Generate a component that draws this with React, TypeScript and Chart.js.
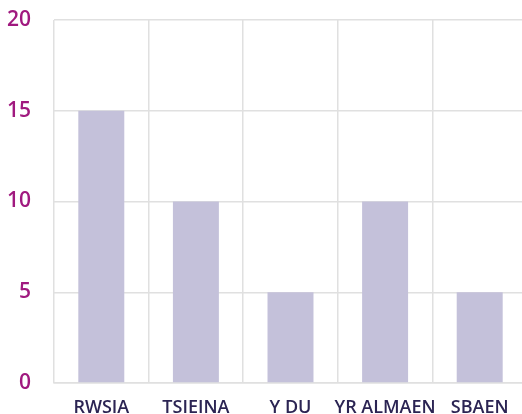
import { useEffect, useRef } from "react";
import { Chart, registerables } from "chart.js";
Chart.register(...registerables);

const categories = ["RWSIA", "TSIEINA", "Y DU", "YR ALMAEN", "SBAEN"];
const values = [15, 10, 5, 10, 5];
const yTicks = [0, 5, 10, 15, 20];

const GRID = "#e0e0e0";

export default function App() {
  const ref = useRef<HTMLCanvasElement>(null);
  useEffect(() => {
    const chart = new Chart(ref.current!, {
      type: "bar",
      data: {
        labels: categories,
        datasets: [
          {
            data: values,
            backgroundColor: "#c4c1da",
            categoryPercentage: 1,
            barPercentage: 0.486,
          },
        ],
      },
      options: {
        animation: false,
        responsive: false,
        maintainAspectRatio: false,
        layout: { padding: { top: 20, right: 3, left: 0, bottom: 0 } },
        plugins: { legend: { display: false }, tooltip: { enabled: false } },
        scales: {
          x: {
            grid: { color: GRID, lineWidth: 1.5, drawTicks: false, offset: true },
            border: { color: GRID, width: 1.5 },
            ticks: {
              color: "#2b2453",
              font: { family: "'Open Sans'", size: 18, weight: "600" },
              padding: 14,
              maxRotation: 0,
              autoSkip: false,
            },
            afterFit: (s: any) => {
              s.height = 31;
              s.paddingLeft = 0;
              s.paddingRight = 0;
            },
          },
          y: {
            min: 0,
            max: 20,
            grid: { color: GRID, lineWidth: 1.5, drawTicks: false },
            border: { display: false },
            ticks: {
              color: "#a0197f",
              font: { family: "'Open Sans'", size: 21, weight: "600" },
              padding: 23,
            },
            afterBuildTicks: (s: any) => {
              s.ticks = yTicks.map((v) => ({ value: v }));
            },
            afterFit: (s: any) => {
              s.width = 54;
              s.paddingTop = 0;
              s.paddingBottom = 0;
            },
          },
        },
      },
    } as any);
    return () => chart.destroy();
  }, []);
  return (
    <div style={{ position: "fixed", left: 0, top: 0, width: 522, height: 414, overflow: "hidden", background: "#fff" }}>
      <canvas ref={ref} width={530} height={414} style={{ display: "block" }} />
    </div>
  );
}
